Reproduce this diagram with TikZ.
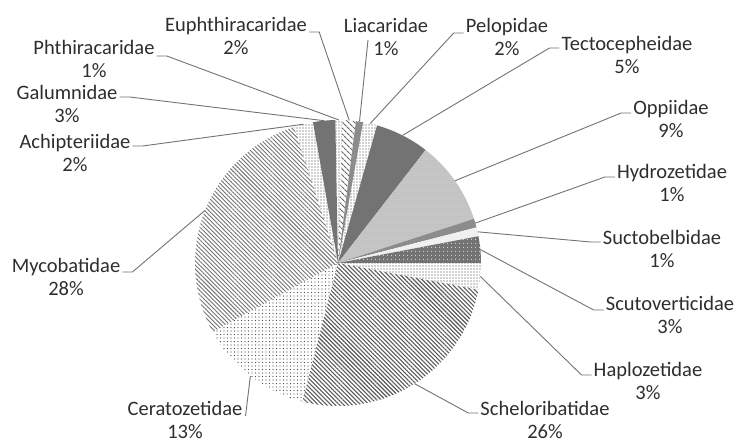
\documentclass[tikz,border=0pt]{standalone}
\usepackage{fontspec}
\setmainfont{Carlito}
\usetikzlibrary{patterns.meta}
\tikzset{
  lbl/.style={font=\fontsize{20.5}{23.5}\selectfont, align=center, text=black!82, inner sep=0pt},
  leader/.style={draw=black!55, line width=0.9pt},
  pdots/.style={pattern={Dots[radius=0.6pt, distance=3pt]}, pattern color=black!75},
  pcera/.style={pattern={Dots[radius=0.55pt, distance=3.5pt]}, pattern color=black!70},
  poppi/.style={fill=black!20, postaction={pattern={Dots[radius=0.5pt, distance=2pt]}, pattern color=black!40}},
  pdark/.style={fill=black!55},
  pmid/.style={fill=black!45},
  plight/.style={fill=black!6},
  pscut/.style={fill=black!55, postaction={pattern={Dots[radius=0.6pt, distance=4pt]}, pattern color=white}},
  pschel/.style={pattern={Lines[angle=-45, distance=3pt, line width=1.1pt]}, pattern color=black!65},
  pmyco/.style={pattern={Lines[angle=-45, distance=3pt, line width=0.9pt]}, pattern color=black!55},
  peuph/.style={pattern={Lines[angle=-45, distance=4pt, line width=1.2pt]}, pattern color=black!60},
}
\newcommand\pieslice[4]{%
  \path[#3] (C) -- ++({-90+3.6*#1}:\R) arc[start angle={-90+3.6*#1}, end angle={-90+3.6*#2}, radius=\R] -- cycle;
  \path (C) ++({-90+1.8*(#1+#2)}:\R) coordinate (e#4);
}
\begin{document}
\begin{tikzpicture}[x=1pt,y=-1pt]
\def\R{143}
\useasboundingbox (0,0) rectangle (741,443);
\fill[white] (0,0) rectangle (741,443);
\coordinate (C) at (338,263);
% slices, clockwise from 12 o'clock
\pieslice{-0.3}{0.5}{pdots}{Phth}
\pieslice{0.5}{2.0}{peuph}{Euph}
\pieslice{2.0}{2.8}{pmid}{Lia}
\pieslice{2.8}{4.4}{pdots}{Pelo}
\pieslice{4.4}{10.5}{pdark}{Tect}
\pieslice{10.5}{20}{poppi}{Oppi}
\pieslice{20}{21}{pmid}{Hydr}
\pieslice{21}{22}{plight}{Suct}
\pieslice{22}{25}{pscut}{Scut}
\pieslice{25}{28}{pdots}{Hapl}
\pieslice{28}{54}{pschel}{Schel}
\pieslice{54}{67}{pcera}{Cera}
\pieslice{67}{95}{pmyco}{Myco}
\pieslice{95}{97.2}{pdots}{Achi}
\pieslice{97.2}{99.7}{pdark}{Galu}
% labels
\node[lbl] (lEuph) at (236,36) {Euphthiracaridae\\2\%};
\node[lbl] (lPhth) at (94,59) {Phthiracaridae\\1\%};
\node[lbl] (lGalu) at (67,104) {Galumnidae\\3\%};
\node[lbl] (lAchi) at (75,153) {Achipteriidae\\2\%};
\node[lbl] (lMyco) at (66,277) {Mycobatidae\\28\%};
\node[lbl] (lCera) at (185,420) {Ceratozetidae\\13\%};
\node[lbl] (lSchel) at (545,420) {Scheloribatidae\\26\%};
\node[lbl] (lHapl) at (648,381) {Haplozetidae\\3\%};
\node[lbl] (lScut) at (670,315) {Scutoverticidae\\3\%};
\node[lbl] (lSuct) at (662,249) {Suctobelbidae\\1\%};
\node[lbl] (lHydr) at (672,183) {Hydrozetidae\\1\%};
\node[lbl] (lOppi) at (671,119) {Oppiidae\\9\%};
\node[lbl] (lTect) at (627,55) {Tectocepheidae\\5\%};
\node[lbl] (lPelo) at (507,37) {Pelopidae\\2\%};
\node[lbl] (lLia) at (386,37) {Liacaridae\\1\%};
% leader lines
\draw[leader] ([shift={(2,-4)}]lEuph.east) -- ++(10,0) -- (eEuph);
\draw[leader] ([shift={(2,-3)}]lPhth.east) -- ++(10,0) -- (ePhth);
\draw[leader] ([shift={(2,-7)}]lGalu.east) -- ++(10,0) -- (eGalu);
\draw[leader] ([shift={(2,-7)}]lAchi.east) -- ++(10,0) -- (eAchi);
\draw[leader] ([shift={(2,-5)}]lMyco.east) -- ++(10,0) -- (eMyco);
\draw[leader] ([shift={(3,-4)}]lCera.east) -- (eCera);
\draw[leader] ([shift={(-2,-7)}]lSchel.west) -- ++(-10,0) -- (eSchel);
\draw[leader] ([shift={(-2,-6)}]lHapl.west) -- ++(-10,0) -- (eHapl);
\draw[leader] ([shift={(-2,-5)}]lScut.west) -- ++(-10,0) -- (eScut);
\draw[leader] ([shift={(-2,-7)}]lSuct.west) -- ++(-10,0) -- (eSuct);
\draw[leader] ([shift={(-2,-6)}]lHydr.west) -- ++(-10,0) -- (eHydr);
\draw[leader] ([shift={(-2,-6)}]lOppi.west) -- ++(-10,0) -- (eOppi);
\draw[leader] ([shift={(-2,-7)}]lTect.west) -- ++(-10,0) -- (eTect);
\draw[leader] ([shift={(-2,-4)}]lPelo.west) -- ++(-10,0) -- (ePelo);
\draw[leader] ([shift={(-18,3)}]lLia.center) -- (eLia);
\end{tikzpicture}
\end{document}
